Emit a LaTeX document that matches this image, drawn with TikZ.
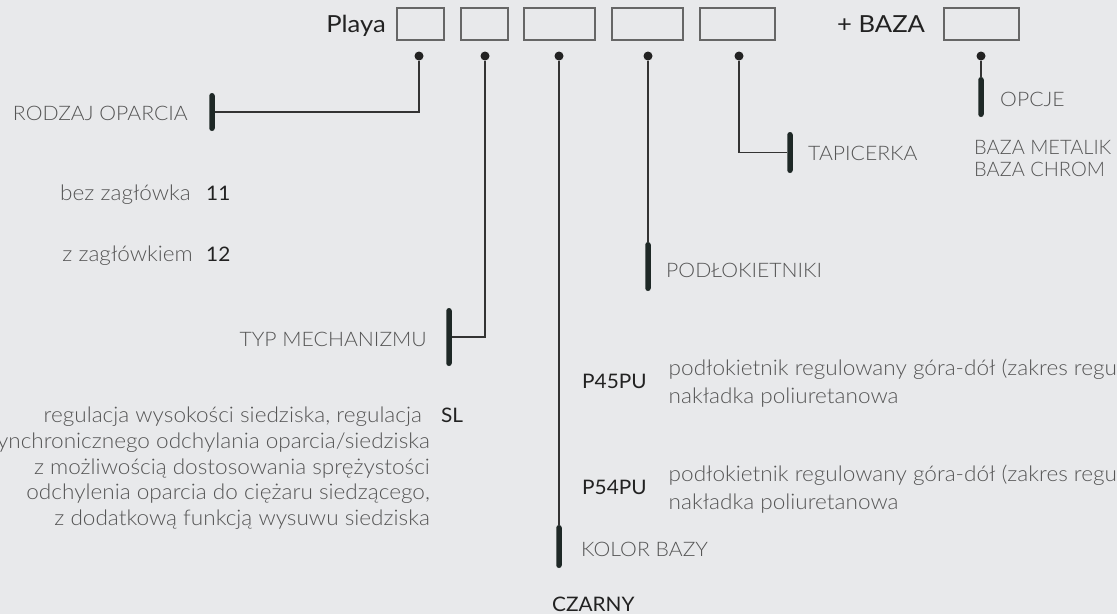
\documentclass[tikz,border=0pt]{standalone}
\usepackage{fontspec}
\setmainfont{Lato}
\newfontfamily\lightfont{Lato Light}[FakeStretch=1.05]
\newfontfamily\capsfont{Lato Light}[FakeStretch=1.06]
\newfontfamily\plaincapsfont{Lato Light}
\newfontfamily\titlefont{Lato}[FakeStretch=1.09]
\newfontfamily\codefont{Lato}[FakeStretch=1.04]
\definecolor{bgcol}{HTML}{E8E9EB}
\definecolor{txtgray}{HTML}{555555}
\definecolor{txtdark}{HTML}{222222}
\definecolor{barcol}{HTML}{1E2826}
\definecolor{linecol}{HTML}{333333}
\definecolor{boxgray}{HTML}{666666}
\definecolor{dotcol}{HTML}{222222}
\begin{document}
\begin{tikzpicture}[x=1pt,y=-1pt,
  lbl/.style={font=\lightfont\fontsize{21.5}{25}\selectfont, text=txtgray, inner sep=0pt, text height=15.4pt, text depth=0pt},
  caps/.style={font=\capsfont\fontsize{20}{24}\selectfont, text=txtgray, inner sep=0pt, text height=14.3pt, text depth=0pt},
  pcaps/.style={font=\plaincapsfont\fontsize{20}{24}\selectfont, text=txtgray, inner sep=0pt, text height=14.3pt, text depth=0pt},
  code/.style={font=\codefont\fontsize{20}{24}\selectfont, text=txtdark, inner sep=0pt, text height=14.3pt, text depth=0pt},
  title/.style={font=\titlefont\fontsize{23.5}{28}\selectfont, text=txtdark, inner sep=0pt, text height=16.8pt, text depth=0pt},
  slot/.style={draw=boxgray, line width=1.2pt, inner sep=0pt, minimum height=32pt},
  dot/.style={circle, fill=dotcol, inner sep=0pt, minimum size=9pt},
  bar/.style={fill=barcol, rounded corners=2.7pt, inner sep=0pt, minimum width=5.5pt},
  conn/.style={draw=linecol, line width=1.3pt}]
\useasboundingbox (0,0) rectangle (1117,614);
\fill[bgcol] (0,0) rectangle (1117,614);
\clip (0,0) rectangle (1117,614);

% header
\node[title, anchor=east] (playa) at (386,24.5) {Playa};
\node[slot, minimum width=47pt] (s1) at (420.5,24) {};
\node[slot, minimum width=47pt] (s2) at (484.5,24) {};
\node[slot, minimum width=71pt] (s3) at (559.5,24) {};
\node[slot, minimum width=71pt] (s4) at (647.5,24) {};
\node[slot, minimum width=75pt] (s5) at (737.5,24) {};
\node[title, anchor=west] (baza) at (837,24.5) {+ BAZA};
\node[slot, minimum width=75pt] (s6) at (981.5,24) {};

% dots
\node[dot] (d1) at (419,56) {};
\node[dot] (d2) at (485,56) {};
\node[dot] (d3) at (559,56) {};
\node[dot] (d4) at (648,56) {};
\node[dot] (d5) at (739,56) {};
\node[dot] (d6) at (981,56) {};

% bars
\node[bar, minimum height=38pt] (b1) at (212,112) {};
\node[bar, minimum height=58pt] (b2) at (449,337) {};
\node[bar, minimum height=43pt] (b3) at (559,546.5) {};
\node[bar, minimum height=49pt] (b4) at (648,266.5) {};
\node[bar, minimum height=41pt] (b5) at (790,152.5) {};
\node[bar, minimum height=40pt] (b6) at (981,97) {};

% connectors
\draw[conn] (d1) |- (b1);
\draw[conn] (d2) |- (b2);
\draw[conn] (d3) -- (b3);
\draw[conn] (d4) -- (b4);
\draw[conn] (d5) |- (b5);
\draw[conn] (d6) -- (b6);

% left labels
\node[caps, anchor=east] (t1) at (188,113.5) {RODZAJ OPARCIA};
\node[lbl, anchor=east] (t2) at (191,193) {bez zagłówka};
\node[code, anchor=west] (c11) at (206,193) {11};
\node[lbl, anchor=east] (t3) at (193,254) {z zagłówkiem};
\node[code, anchor=west] (c12) at (206,254) {12};
\node[caps, anchor=east] (t4) at (427,339) {TYP MECHANIZMU};
\node[lbl, anchor=east] (m1) at (422,415) {regulacja wysokości siedziska, regulacja};
\node[lbl, anchor=east] (m2) at (430,440.7) {synchronicznego odchylania oparcia/siedziska};
\node[lbl, anchor=east] (m3) at (430,466.3) {z możliwością dostosowania sprężystości};
\node[lbl, anchor=east] (m4) at (430,492) {odchylenia oparcia do ciężaru siedzącego,};
\node[lbl, anchor=east] (m5) at (430,517.5) {z dodatkową funkcją wysuwu siedziska};
\node[code, anchor=west] (csl) at (441,415) {SL};

% middle labels
\node[caps, anchor=west] (t5) at (581,549) {KOLOR BAZY};
\node[code, anchor=west] (czarny) at (552,604) {CZARNY};
\node[caps, anchor=west] (t6) at (666,270) {PODŁOKIETNIKI};
\node[code, anchor=west] (p45) at (582,381) {P45PU};
\node[lbl, anchor=west] (p45a) at (668.5,368) {podłokietnik regulowany góra-dół (zakres regul};
\node[lbl, anchor=west] (p45b) at (668.5,396) {nakładka poliuretanowa};
\node[code, anchor=west] (p54) at (582,487.5) {P54PU};
\node[lbl, anchor=west] (p54a) at (668.5,474) {podłokietnik regulowany góra-dół (zakres regul};
\node[lbl, anchor=west] (p54b) at (668.5,502) {nakładka poliuretanowa};

% right labels
\node[caps, anchor=west] (t7) at (808,153) {TAPICERKA};
\node[caps, anchor=west] (t8) at (1000,99) {OPCJE};
\node[pcaps, anchor=west] (o1) at (974,147) {BAZA METALIK};
\node[pcaps, anchor=west] (o2) at (974,169.5) {BAZA CHROM};
\end{tikzpicture}
\end{document}
